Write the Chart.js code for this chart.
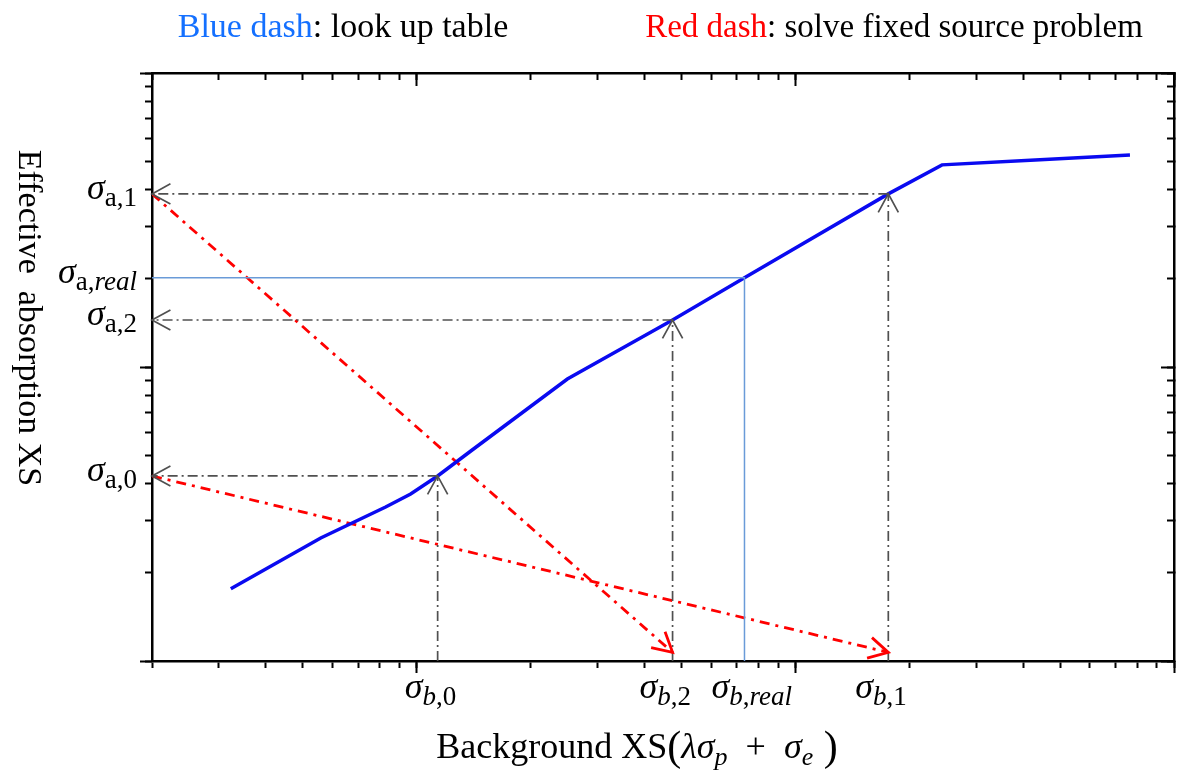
<!DOCTYPE html>
<html lang="en">
<head>
<meta charset="UTF-8">
<title>Look up table vs. fixed source problem</title>
<script src="https://cdn.jsdelivr.net/npm/chart.js"></script>
<style>
  body { margin: 0; background: #fff; }
  #wrap { width: 1179px; height: 772px; }
</style>
</head>
<body>
<div id="wrap"><canvas id="xsChart" width="1179" height="772"></canvas></div>
<script>
// log-log axes and their tick marks
const xRange = [2, 1000];
const yRange = [0.1, 10];
const xTicks = [2, 3, 4, 5, 6, 7, 8, 9, 10, 20, 30, 40, 50, 60, 70, 80, 90, 100,
                200, 300, 400, 500, 600, 700, 800, 900, 1000];
const xMajorTicks = [10, 100, 1000];
const yTicks = [0.1, 0.2, 0.3, 0.4, 0.5, 0.6, 0.7, 0.8, 0.9, 1, 2, 3, 4, 5, 6, 7, 8, 9, 10];
const yMajorTicks = [0.1, 1, 10];

// look up table: effective absorption XS vs background XS
const tableX = [3.23, 5.58, 8.28, 9.64, 11.36, 13.9, 25.0, 47.4, 73.4, 176, 244, 430, 765];
const tableY = [0.176, 0.262, 0.334, 0.370, 0.426, 0.518, 0.910, 1.445, 2.01, 3.88, 4.87, 5.06, 5.26];

// marked values on both axes
const bgLabels = ['b,0', 'b,2', 'b,real', 'b,1'];
const bgValues = [11.36, 47.4, 73.4, 176];
const absLabels = ['a,0', 'a,2', 'a,real', 'a,1'];
const absValues = [0.426, 1.445, 2.01, 3.88];

// gray look ups (index into the lists above) and the real point
const lookupSteps = [0, 1, 3];
const realStep = 2;
// red fixed source steps: from absorption index to background index
const fixedFrom = [3, 0];
const fixedTo = [1, 3];
const fixedEndY = 0.107;

const SERIF = '"Liberation Serif", "Times New Roman", serif';
const GRAY = '#505050';
const RED = '#ff0000';

const datasets = [];
const grayLine = {
  borderColor: GRAY, borderWidth: 1.7, borderDash: [10, 4, 2, 4],
  arrowHead: { length: 21, spread: 0.5, width: 1.7 }
};
lookupSteps.forEach(i => {
  datasets.push(Object.assign({
    data: [{ x: bgValues[i], y: absValues[i] }, { x: xRange[0], y: absValues[i] }]
  }, grayLine));
  datasets.push(Object.assign({
    data: [{ x: bgValues[i], y: yRange[0] }, { x: bgValues[i], y: absValues[i] }]
  }, grayLine));
});
datasets.push({
  data: [{ x: xRange[0], y: absValues[realStep] },
         { x: bgValues[realStep], y: absValues[realStep] },
         { x: bgValues[realStep], y: yRange[0] }],
  borderColor: '#6a9bd8', borderWidth: 1.5
});
datasets.push({
  data: tableX.map((x, i) => ({ x: x, y: tableY[i] })),
  borderColor: '#0a0af0', borderWidth: 3.5
});
fixedFrom.forEach((a, k) => {
  datasets.push({
    data: [{ x: xRange[0], y: absValues[a] }, { x: bgValues[fixedTo[k]], y: fixedEndY }],
    borderColor: RED, borderWidth: 2.8, borderDash: [10, 6, 3, 6],
    arrowHead: { length: 22, spread: 0.5, width: 2.8 }
  });
});
datasets.forEach(d => {
  d.showLine = true;
  d.pointRadius = 0;
  d.tension = 0;
  d.xAxisID = 'x';
  d.yAxisID = 'y';
});

function axis(dir, position, ticks, tickLength, border) {
  const horizontal = dir === 'x';
  const range = horizontal ? xRange : yRange;
  return {
    type: 'logarithmic',
    axis: dir,
    position: position,
    min: range[0],
    max: range[1],
    border: { display: border, color: '#000', width: 2.5 },
    grid: { drawOnChartArea: false, drawTicks: true, tickLength: tickLength, tickWidth: 2, tickColor: '#000' },
    ticks: { display: false },
    afterBuildTicks: s => { s.ticks = ticks.map(v => ({ value: v })); },
    afterFit: s => { if (horizontal) s.height = 0; else s.width = 0; }
  };
}

// open V arrow heads at the end of flagged datasets
const arrowPlugin = {
  id: 'arrowHeads',
  afterDatasetsDraw(chart) {
    const ctx = chart.ctx;
    chart.data.datasets.forEach((ds, i) => {
      if (!ds.arrowHead) return;
      const pts = chart.getDatasetMeta(i).data;
      const tip = pts[pts.length - 1], from = pts[pts.length - 2];
      const ang = Math.atan2(tip.y - from.y, tip.x - from.x);
      const len = ds.arrowHead.length, sp = ds.arrowHead.spread;
      ctx.save();
      ctx.strokeStyle = ds.borderColor;
      ctx.lineWidth = ds.arrowHead.width;
      ctx.setLineDash([]);
      ctx.beginPath();
      ctx.moveTo(tip.x - len * Math.cos(ang - sp), tip.y - len * Math.sin(ang - sp));
      ctx.lineTo(tip.x, tip.y);
      ctx.lineTo(tip.x - len * Math.cos(ang + sp), tip.y - len * Math.sin(ang + sp));
      ctx.stroke();
      ctx.restore();
    });
  }
};

// draws runs of [text, font, baseline] and returns the width
function runs(ctx, parts, x, measureOnly) {
  let w = 0;
  parts.forEach(p => {
    ctx.font = p[1];
    if (!measureOnly) ctx.fillText(p[0], x + w, p[2]);
    w += ctx.measureText(p[0]).width;
  });
  return w;
}

function sigmaParts(sub, base, subBase) {
  const parts = [['σ', 'italic 36px ' + SERIF, base]];
  sub.split(/([a-z]+)/).filter(s => s).forEach(s => {
    const roman = !/[a-z]/.test(s) || s === 'a';
    parts.push([s, (roman ? '' : 'italic ') + '27px ' + SERIF, subBase]);
  });
  return parts;
}

const textPlugin = {
  id: 'texts',
  afterDraw(chart) {
    const ctx = chart.ctx;
    const xs = chart.scales.x, ys = chart.scales.y;
    ctx.save();
    ctx.fillStyle = '#000';
    ctx.textBaseline = 'alphabetic';
    ctx.textAlign = 'left';

    // absorption labels on the left
    absLabels.forEach((lab, i) => {
      const py = ys.getPixelForValue(absValues[i]);
      const parts = sigmaParts(lab, py + 5, py + 12);
      const w = runs(ctx, parts, 0, true);
      runs(ctx, parts, 137 - w, false);
    });
    // background labels below
    bgLabels.forEach((lab, i) => {
      const px = xs.getPixelForValue(bgValues[i]);
      runs(ctx, sigmaParts(lab, 698, 705), px - 33, false);
    });

    // x title
    const xt = [
      ['Background XS', '36px ' + SERIF, 758],
      ['(', '42px ' + SERIF, 760],
      ['λσ', 'italic 36px ' + SERIF, 758],
      ['p', 'italic 26px ' + SERIF, 765],
      ['  +  ', '36px ' + SERIF, 758],
      ['σ', 'italic 36px ' + SERIF, 758],
      ['e', 'italic 26px ' + SERIF, 765],
      [' )', '42px ' + SERIF, 760]
    ];
    const xw = runs(ctx, xt, 0, true);
    runs(ctx, xt, 637 - xw / 2, false);

    // y title
    ctx.save();
    ctx.translate(28, 318);
    ctx.rotate(Math.PI / 2);
    ctx.textAlign = 'center';
    ctx.textBaseline = 'middle';
    ctx.font = '34px ' + SERIF;
    ctx.fillText('Effective  absorption XS', 0, 0);
    ctx.restore();

    // header key
    const blue = [['Blue dash', '34px ' + SERIF, 37, '#1470ff'], [': look up table', '34px ' + SERIF, 37, '#000']];
    const red = [['Red dash', '33px ' + SERIF, 37, RED], [': solve fixed source problem', '33px ' + SERIF, 37, '#000']];
    [[blue, 343], [red, 894]].forEach(([parts, cx]) => {
      const w = runs(ctx, parts, 0, true);
      let x = cx - w / 2;
      parts.forEach(p => {
        ctx.font = p[1];
        ctx.fillStyle = p[3];
        ctx.fillText(p[0], x, p[2]);
        x += ctx.measureText(p[0]).width;
      });
    });
    ctx.restore();
  }
};

new Chart(document.getElementById('xsChart').getContext('2d'), {
  type: 'scatter',
  data: { datasets: datasets },
  options: {
    responsive: false,
    animation: false,
    layout: { padding: { left: 152, right: 5, top: 73, bottom: 111 } },
    plugins: { legend: { display: false }, tooltip: { enabled: false } },
    scales: {
      x: axis('x', 'bottom', xTicks, 7, true),
      xMajor: axis('x', 'bottom', xMajorTicks, 12, false),
      xTop: axis('x', 'top', xTicks, -7, true),
      xTopMajor: axis('x', 'top', xMajorTicks, -13, false),
      y: axis('y', 'left', yTicks, 7, true),
      yMajor: axis('y', 'left', yMajorTicks, 12, false),
      yRight: axis('y', 'right', yTicks, -7, true),
      yRightMajor: axis('y', 'right', yMajorTicks, -13, false)
    }
  },
  plugins: [arrowPlugin, textPlugin]
});
</script>
</body>
</html>
